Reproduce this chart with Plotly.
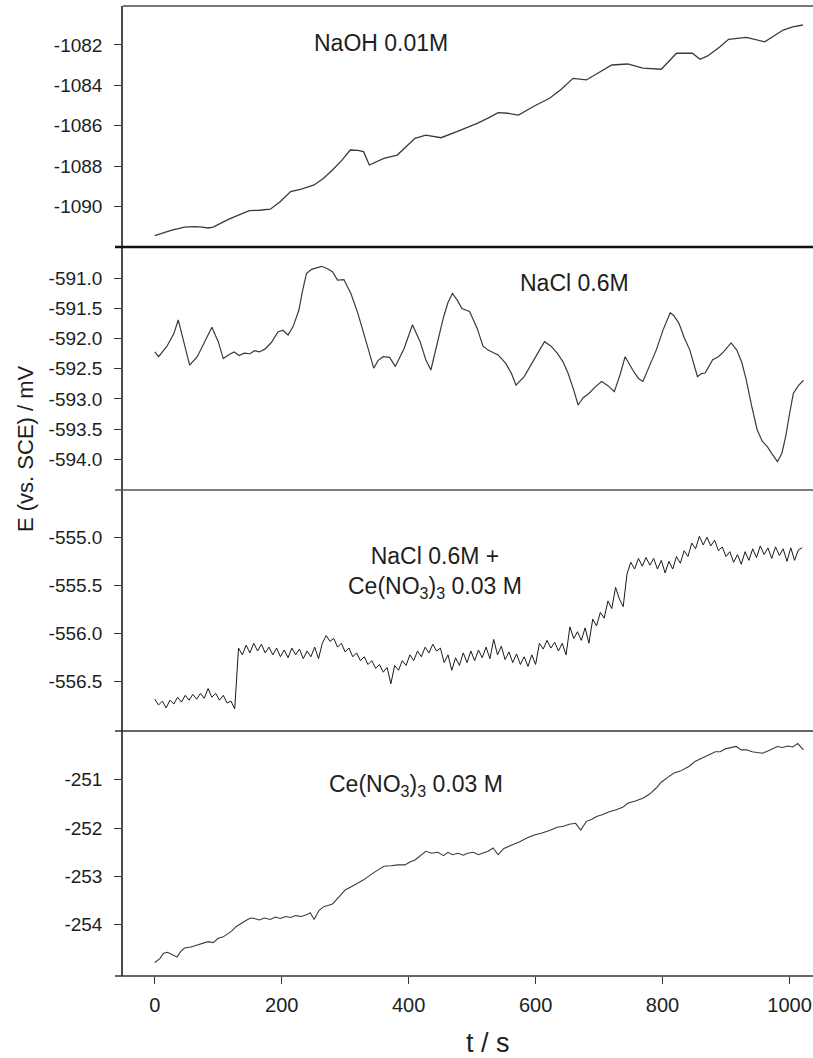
import plotly.graph_objects as go

# ---------------- data ----------------
naoh_t = [0, 10, 27, 47, 63, 75, 84, 92, 104, 116, 130, 149, 165, 182, 198, 214, 231, 251, 265,
          280, 295, 308, 320, 329, 338, 350, 361, 382, 396, 410, 427, 451, 476, 508, 525, 541,
          556, 573, 598, 622, 640, 659, 680, 700, 720, 745, 769, 798, 810, 822, 847, 859, 871,
          890, 904, 932, 961, 975, 990, 1005, 1021]
naoh_v = [-1091.44, -1091.35, -1091.16, -1091.02, -1090.99, -1091.02, -1091.06, -1091.02,
          -1090.82, -1090.63, -1090.45, -1090.20, -1090.18, -1090.13, -1089.75, -1089.26,
          -1089.14, -1088.93, -1088.62, -1088.19, -1087.70, -1087.20, -1087.22, -1087.28,
          -1087.94, -1087.78, -1087.61, -1087.45, -1087.05, -1086.62, -1086.46, -1086.59,
          -1086.29, -1085.88, -1085.62, -1085.35, -1085.38, -1085.47, -1085.02, -1084.64,
          -1084.20, -1083.65, -1083.73, -1083.35, -1082.99, -1082.94, -1083.15, -1083.20,
          -1082.80, -1082.41, -1082.41, -1082.71, -1082.54, -1082.10, -1081.72, -1081.62,
          -1081.84, -1081.55, -1081.26, -1081.10, -1081.01]

nacl_t = [0, 6, 19, 30, 37, 44, 55, 67, 80, 90, 100, 108, 118, 125, 133, 141, 150, 157, 165,
          174, 184, 194, 202, 210, 218, 227, 233, 239, 247, 255, 263, 272, 280, 288, 298, 309,
          320, 333, 345, 352, 360, 370, 379, 393, 406, 418, 427, 435, 445, 455, 462, 469, 477,
          484, 496, 508, 517, 525, 541, 553, 562, 569, 582, 594, 604, 614, 624, 634, 643, 651,
          660, 667, 675, 684, 694, 704, 714, 724, 733, 741, 753, 762, 769, 780, 790, 801, 812,
          818, 826, 834, 843, 855, 861, 867, 879, 888, 896, 908, 917, 925, 932, 940, 949, 957,
          965, 973, 981, 988, 994, 1000, 1006, 1014, 1022]
nacl_v = [-592.22, -592.30, -592.13, -591.92, -591.69, -591.97, -592.44, -592.30, -592.02,
          -591.81, -592.05, -592.33, -592.26, -592.22, -592.28, -592.24, -592.25, -592.20,
          -592.22, -592.17, -592.06, -591.89, -591.86, -591.94, -591.80, -591.53, -591.20,
          -590.92, -590.85, -590.83, -590.80, -590.84, -590.89, -591.03, -591.02, -591.25,
          -591.58, -592.05, -592.49, -592.36, -592.30, -592.31, -592.46, -592.16, -591.77,
          -592.05, -592.35, -592.52, -592.10, -591.64, -591.40, -591.25, -591.37, -591.50,
          -591.55, -591.83, -592.12, -592.19, -592.27, -592.41, -592.58, -592.77, -592.63,
          -592.41, -592.22, -592.05, -592.12, -592.24, -592.38, -592.57, -592.85, -593.10,
          -592.98, -592.91, -592.80, -592.71, -592.78, -592.88, -592.60, -592.30, -592.52,
          -592.66, -592.71, -592.45, -592.19, -591.85, -591.57, -591.62, -591.75, -591.98,
          -592.19, -592.63, -592.58, -592.57, -592.35, -592.30, -592.22, -592.07, -592.19,
          -592.40, -592.69, -593.10, -593.51, -593.70, -593.79, -593.92, -594.04, -593.90,
          -593.62, -593.25, -592.91, -592.78, -592.69]

mix_v = [-556.68, -556.74, -556.70, -556.77, -556.69, -556.73, -556.66, -556.71, -556.64,
         -556.69, -556.63, -556.68, -556.62, -556.67, -556.57, -556.66, -556.62, -556.69,
         -556.64, -556.72, -556.70, -556.78, -556.15, -556.22, -556.12, -556.20, -556.10,
         -556.18, -556.11, -556.20, -556.14, -556.22, -556.15, -556.24, -556.17, -556.25,
         -556.15, -556.22, -556.16, -556.26, -556.18, -556.24, -556.14, -556.26, -556.10,
         -556.02, -556.08, -556.05, -556.14, -556.10, -556.19, -556.15, -556.24, -556.20,
         -556.28, -556.24, -556.32, -556.28, -556.36, -556.32, -556.40, -556.35, -556.52,
         -556.33, -556.38, -556.28, -556.33, -556.22, -556.28, -556.18, -556.24, -556.14,
         -556.20, -556.11, -556.18, -556.15, -556.30, -556.22, -556.38, -556.25, -556.33,
         -556.20, -556.30, -556.18, -556.28, -556.17, -556.25, -556.14, -556.26, -556.06,
         -556.22, -556.13, -556.27, -556.19, -556.30, -556.21, -556.32, -556.24, -556.34,
         -556.22, -556.32, -556.10, -556.16, -556.07, -556.15, -556.09, -556.18, -556.10,
         -556.22, -555.93, -556.05, -555.98, -556.07, -555.94, -556.10, -555.85, -555.92,
         -555.78, -555.84, -555.66, -555.74, -555.52, -555.64, -555.72, -555.38, -555.26,
         -555.33, -555.22, -555.30, -555.21, -555.29, -555.22, -555.33, -555.24, -555.37,
         -555.25, -555.33, -555.20, -555.27, -555.14, -555.20, -555.06, -555.12, -554.99,
         -555.08, -555.00, -555.09, -555.03, -555.14, -555.10, -555.20, -555.15, -555.26,
         -555.18, -555.28, -555.15, -555.24, -555.12, -555.21, -555.09, -555.18, -555.11,
         -555.22, -555.10, -555.19, -555.12, -555.25, -555.11, -555.24, -555.13, -555.11]
mix_t = [6 * i for i in range(len(mix_v))]

ce_t = [0, 8, 14, 20, 28, 35, 41, 47, 57, 67, 76, 84, 92, 100, 108, 116, 122, 128, 136, 145,
        151, 157, 165, 173, 182, 190, 198, 206, 214, 222, 231, 238, 245, 251, 259, 267, 273,
        280, 290, 300, 314, 329, 345, 361, 372, 383, 394, 402, 410, 418, 427, 436, 446, 455,
        462, 469, 478, 486, 493, 502, 510, 516, 525, 533, 541, 550, 557, 565, 575, 587, 598,
        610, 622, 634, 644, 653, 663, 671, 680, 688, 696, 706, 716, 727, 737, 746, 757, 769,
        779, 790, 798, 808, 818, 828, 836, 842, 851, 858, 867, 875, 883, 891, 899, 908, 916,
        924, 932, 941, 949, 957, 965, 973, 981, 989, 997, 1005, 1013, 1022]
ce_v = [-254.78, -254.70, -254.59, -254.57, -254.62, -254.67, -254.55, -254.48, -254.46,
        -254.42, -254.38, -254.35, -254.37, -254.28, -254.25, -254.17, -254.12, -254.04,
        -253.97, -253.90, -253.86, -253.87, -253.90, -253.86, -253.89, -253.84, -253.87,
        -253.83, -253.85, -253.81, -253.83, -253.80, -253.75, -253.89, -253.70, -253.62,
        -253.60, -253.57, -253.43, -253.28, -253.18, -253.07, -252.92, -252.79, -252.78,
        -252.76, -252.76, -252.70, -252.66, -252.58, -252.48, -252.52, -252.50, -252.57,
        -252.50, -252.55, -252.52, -252.56, -252.52, -252.50, -252.55, -252.52, -252.48,
        -252.41, -252.55, -252.42, -252.38, -252.35, -252.28, -252.20, -252.14, -252.10,
        -252.05, -251.98, -251.96, -251.92, -251.90, -252.04, -251.86, -251.82, -251.76,
        -251.72, -251.66, -251.62, -251.57, -251.48, -251.44, -251.38, -251.30, -251.17,
        -251.05, -250.95, -250.86, -250.82, -250.77, -250.72, -250.62, -250.58, -250.52,
        -250.47, -250.42, -250.42, -250.36, -250.34, -250.31, -250.38, -250.38, -250.42,
        -250.43, -250.45, -250.41, -250.36, -250.31, -250.33, -250.30, -250.32, -250.25,
        -250.38]

panel_ranges = [[-1092.0, -1080.07], [-594.51, -590.48], [-557.01, -554.51], [-255.06, -249.99]]
panel_ticks = [[-1090, -1088, -1086, -1084, -1082],
               [-594.0, -593.5, -593.0, -592.5, -592.0, -591.5, -591.0],
               [-556.5, -556.0, -555.5, -555.0],
               [-254, -253, -252, -251]]
panel_ticktext = [["-1090", "-1088", "-1086", "-1084", "-1082"],
                  ["-594.0", "-593.5", "-593.0", "-592.5", "-592.0", "-591.5", "-591.0"],
                  ["-556.5", "-556.0", "-555.5", "-555.0"],
                  ["-254", "-253", "-252", "-251"]]
x_ticks = [0, 200, 400, 600, 800, 1000]
panel_labels = ["NaOH 0.01M", "NaCl 0.6M",
                "NaCl 0.6M +<br>Ce(NO<sub>3</sub>)<sub>3</sub> 0.03 M",
                "Ce(NO<sub>3</sub>)<sub>3</sub> 0.03 M"]

# ---------------- layout geometry ----------------
W, H = 813, 1058
ML, MR, MT, MB = 123, 0, 6, 82
PW, PH = W - ML - MR, H - MT - MB
bounds = [6, 247, 490, 731, 976]  # panel boundaries in px (top -> bottom)


def py2paper(py):
    return (H - MB - py) / PH


def px2paper(px):
    return (px - ML) / PW


FONT = "Liberation Sans, Arial, sans-serif"
TXT = "#1e1e1e"
series = [(naoh_t, naoh_v, "#3a3a3a", 1.3), (nacl_t, nacl_v, "#3a3a3a", 1.2),
          (mix_t, mix_v, "#1a1a1a", 1.0), (ce_t, ce_v, "#3a3a3a", 1.1)]

fig = go.Figure()
layout = dict(
    width=W, height=H, margin=dict(l=ML, r=MR, t=MT, b=MB),
    paper_bgcolor="white", plot_bgcolor="white", showlegend=False,
    font=dict(family=FONT, color=TXT),
)

for i, (t, v, col, lw) in enumerate(series):
    n = i + 1
    xa = "x" if n == 1 else f"x{n}"
    ya = "y" if n == 1 else f"y{n}"
    fig.add_trace(go.Scatter(x=t, y=v, mode="lines", line=dict(color=col, width=lw),
                             xaxis=xa, yaxis=ya, hoverinfo="skip"))
    dom = [py2paper(bounds[i + 1]), py2paper(bounds[i])]
    xkey = "xaxis" if n == 1 else f"xaxis{n}"
    ykey = "yaxis" if n == 1 else f"yaxis{n}"
    bottom = (n == 4)
    layout[xkey] = dict(
        range=[-50, 1037], domain=[0, 1], anchor=ya, showgrid=False, zeroline=False,
        showline=False, visible=bottom,
        tickmode="array", tickvals=x_ticks, ticktext=[str(x) for x in x_ticks],
        ticks="outside", ticklen=7, tickwidth=1.3, tickcolor="#333",
        ticklabelstandoff=4,
        tickfont=dict(size=20, family=FONT, color=TXT),
    )
    if not bottom:
        layout[xkey]["matches"] = "x4"
    layout[ykey] = dict(
        range=panel_ranges[i], domain=dom, anchor=xa, showgrid=False, zeroline=False,
        showline=True, linecolor="#4a4a4a", linewidth=1.5,
        tickmode="array", tickvals=panel_ticks[i], ticktext=panel_ticktext[i],
        ticks="outside", ticklen=7, tickwidth=1.3, tickcolor="#333",
        ticklabelstandoff=8,
        tickfont=dict(size=19, family=FONT, color=TXT),
    )

fig.update_layout(**layout)

# horizontal frame / separator lines
over = px2paper(115)
sep_styles = [(bounds[0], 0.0, "#4a4a4a", 1.5), (bounds[1], over, "#111111", 2.5),
              (bounds[2], over, "#555555", 1.5), (bounds[3], over, "#333333", 1.5),
              (bounds[4], over, "#333333", 1.5)]
for py, x0, col, lw in sep_styles:
    fig.add_shape(type="line", xref="paper", yref="paper", x0=x0, x1=1,
                  y0=py2paper(py), y1=py2paper(py), line=dict(color=col, width=lw))

# panel labels
label_pos = [(381, 43), (574, 283), (435, 573), (416, 785)]
for txt, (px, py) in zip(panel_labels, label_pos):
    fig.add_annotation(text=txt, xref="paper", yref="paper", x=px2paper(px), y=py2paper(py),
                       showarrow=False, xanchor="center", yanchor="middle",
                       font=dict(size=23, family=FONT, color=TXT))

# axis titles
fig.add_annotation(text="E (vs. SCE) / mV", xref="paper", yref="paper",
                   x=px2paper(25), y=py2paper(449), textangle=-90, showarrow=False,
                   xanchor="center", yanchor="middle",
                   font=dict(size=22, family=FONT, color=TXT))
fig.add_annotation(text="t / s", xref="paper", yref="paper",
                   x=px2paper(488), y=py2paper(1043), showarrow=False,
                   xanchor="center", yanchor="middle",
                   font=dict(size=27, family=FONT, color=TXT))

fig.write_html("out.html")
